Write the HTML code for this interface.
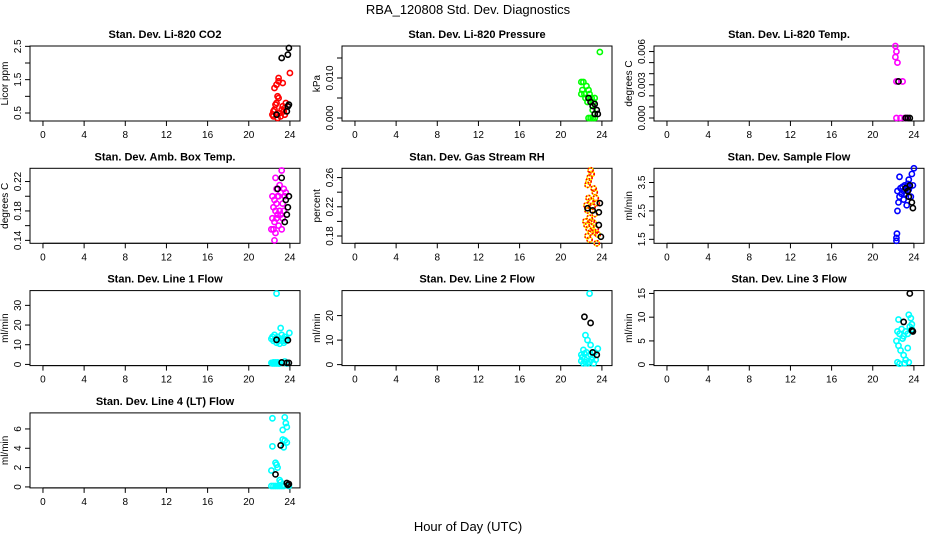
<!DOCTYPE html>
<html><head><meta charset="utf-8"><style>
body{margin:0;background:#fff}
svg{display:block;font-family:"Liberation Sans",Arial,sans-serif}
</style></head><body>
<svg id="c" width="936" height="540" viewBox="0 0 936 540">
<text x="468" y="14" text-anchor="middle" font-size="13">RBA_120808  Std. Dev. Diagnostics</text>
<text x="468" y="531" text-anchor="middle" font-size="13">Hour of Day (UTC)</text>
</svg>
<script>
const xTicks=[0,4,8,12,16,20,24];
const co2X=[22.3,22.4,22.5,22.6,22.7,22.5,22.7,22.9,22.9,22.8,22.9,23.3,23.0,23.2,23.4,23.5,23.6,24.0,23.1,22.8,23.3,23.5,22.4];
const co2Y=[0.45,0.55,0.6,0.75,0.8,1.25,1.35,1.55,1.45,1.0,0.95,1.4,0.5,0.6,0.55,0.45,0.8,1.7,0.4,0.35,0.7,0.65,0.4];
const co2BX=[22.7,23.2,23.8,23.9,23.8,23.7,23.9];
const co2BY=[0.45,2.15,2.25,2.45,0.7,0.55,0.75];
const prsX=[22.0,22.2,22.1,22.3,22.5,22.7,22.0,22.4,22.8,23.0,23.2,23.3,22.6,22.7,22.9,23.1,23.3,23.1,23.8];
const prsY=[0.009,0.009,0.007,0.006,0.008,0.007,0.006,0.005,0.006,0.005,0.004,0.005,0.004,0.0,0.0,0.0,0.0,0.002,0.0165];
const prsBX=[22.7,22.9,23.1,23.3,23.5,23.3,23.6];
const prsBY=[0.005,0.004,0.003,0.0035,0.002,0.001,0.001];
const tmpX=[22.2,22.3,22.2,22.4,22.3,22.9,22.3,22.7,23.1,23.3];
const tmpY=[0.0065,0.006,0.0055,0.005,0.0033,0.0033,0.0,0.0,0.0,0.0];
const tmpBX=[22.5,23.2,23.4,23.6];
const tmpBY=[0.0033,0.0,0.0,0.0];
const boxX=[22.6,23.2,23.0,22.3,22.5,22.7,22.9,23.1,23.4,22.4,22.6,22.8,23.0,23.3,23.5,22.3,22.5,22.7,22.9,23.1,23.4,22.4,22.6,22.2,23.2,23.6,22.5,22.8,23.3,22.7];
const boxY=[0.225,0.235,0.215,0.2,0.195,0.19,0.2,0.205,0.21,0.185,0.18,0.175,0.18,0.19,0.2,0.17,0.165,0.17,0.16,0.175,0.18,0.155,0.15,0.155,0.155,0.205,0.14,0.2,0.17,0.21];
const boxBX=[22.8,23.2,23.6,23.8,23.7,23.5,23.9];
const boxBY=[0.21,0.225,0.195,0.185,0.175,0.165,0.2];
const rhX=[22.9,23.0,22.8,22.7,22.6,23.2,23.3,23.4,22.7,22.9,22.5,22.6,23.1,23.3,23.5,22.8,23.0,23.2,22.5,22.7,22.9,23.1,22.6,23.4,23.6,23.5,22.8,23.0,22.4,23.3];
const rhY=[0.27,0.265,0.26,0.255,0.25,0.245,0.24,0.232,0.232,0.228,0.222,0.215,0.22,0.21,0.225,0.205,0.2,0.198,0.195,0.19,0.185,0.188,0.18,0.19,0.182,0.17,0.175,0.265,0.2,0.185];
const rhBX=[22.6,23.1,23.8,23.7,23.7,23.9];
const rhBY=[0.218,0.215,0.225,0.2125,0.195,0.179];
const sfX=[22.3,22.3,22.35,22.4,22.5,22.6,22.4,22.7,22.9,23.0,23.1,23.2,23.3,23.4,23.5,23.6,23.7,22.8,23.0,23.3,23.8,24.0,23.5,22.6,23.9];
const sfY=[1.45,1.55,1.7,2.5,2.8,3.0,3.2,3.3,3.35,3.2,3.4,3.1,3.3,3.45,3.25,3.35,3.0,3.1,2.9,2.7,3.8,4.0,3.6,3.7,3.4];
const sfBX=[23.2,23.4,23.6,23.8,23.9,23.5];
const sfBY=[3.3,3.2,3.4,2.8,2.6,3.0];
const l1X=[22.7,23.1,23.95,22.2,22.3,22.4,22.5,22.6,22.7,22.8,22.9,23.0,23.1,23.2,23.3,23.4,23.5,23.6,23.7,22.4,22.3,22.5,22.6,22.7,22.8,22.9,23.0,22.2,23.5,23.7];
const l1Y=[36,18.5,16,13,14,12,15,13,11,14,12,10.5,13,15,12,11,14,12,13,1,0.5,0.5,1,0.5,1,0.5,0.5,0.8,1.5,0.5];
const l1BX=[22.7,23.8,23.2,23.7,23.9];
const l1BY=[12.5,12.3,1,0.8,0.8];
const l2X=[22.8,22.4,22.6,22.9,22.2,22.0,22.1,22.3,22.5,22.7,22.9,23.1,23.3,23.0,22.4,22.2,22.6,22.8,23.2,23.6,23.4,22.0];
const l2Y=[29,12,10,8,6,4,3,4.5,5,3.5,4,3,5,2,1,0.5,0.5,1,0.5,6.5,2,1.5];
const l2BX=[22.3,22.9,23.1,23.5];
const l2BY=[19.5,17,5,4];
const l3X=[22.5,23.5,23.7,23.8,22.4,22.6,22.8,23.0,23.2,23.4,23.6,22.3,22.5,22.7,23.0,23.2,23.4,22.4,22.6,23.1,23.5,23.8,22.9];
const l3Y=[9.5,10.5,9.8,8.5,7,6.5,7.5,6,7,6.5,8,5,4,3,2,1,3.5,0.5,0.2,0.3,0.5,7.5,5.5];
const l3BX=[23.6,23.0,23.9,23.8];
const l3BY=[15,9,7,7.2];
const l4X=[22.3,23.5,23.6,23.7,23.3,22.3,23.3,23.5,23.7,23.4,22.6,22.7,22.8,22.2,23.0,22.2,22.4,22.6,22.8,23.0,23.2,23.4,23.9,23.1];
const l4Y=[7.1,7.2,6.6,6.2,5.9,4.2,4.9,4.8,4.6,4.1,2.5,2.3,2.0,1.7,0.7,0.1,0.1,0.1,0.1,0.1,0.1,0.1,0.1,0.5];
const l4BX=[23.1,22.6,23.7,23.8,23.9];
const l4BY=[4.3,1.3,0.4,0.2,0.3];

const panels=[
 {n:'co2',t:'Stan. Dev. Li-820 CO2',yl:'Licor ppm',d:[0.26,2.51],tk:[0.5,1,1.5,2,2.5],lb:['0.5','','1.5','','2.5'],x:co2X,y:co2Y,bx:co2BX,by:co2BY,c:'#ff0000'},
 {n:'pressure',t:'Stan. Dev. Li-820 Pressure',yl:'kPa',d:[-0.00075,0.018],tk:[0,0.005,0.01,0.015],lb:['0.000','','0.010',''],x:prsX,y:prsY,bx:prsBX,by:prsBY,c:'#00ff00'},
 {n:'temp',t:'Stan. Dev. Li-820 Temp.',yl:'degrees C',d:[-0.00027,0.0065],tk:[0,0.001,0.002,0.003,0.004,0.005,0.006],lb:['0.000','','','0.003','','','0.006'],x:tmpX,y:tmpY,bx:tmpBX,by:tmpBY,c:'#ff00ff'},
 {n:'box-temp',t:'Stan. Dev. Amb. Box Temp.',yl:'degrees C',d:[0.136,0.238],tk:[0.14,0.16,0.18,0.2,0.22],lb:['0.14','','0.18','','0.22'],x:boxX,y:boxY,bx:boxBX,by:boxBY,c:'#ff00ff'},
 {n:'rh',t:'Stan. Dev. Gas Stream RH',yl:'percent',d:[0.17,0.2727],tk:[0.18,0.2,0.22,0.24,0.26],lb:['0.18','','0.22','','0.26'],x:rhX,y:rhY,bx:rhBX,by:rhBY,c:'rh'},
 {n:'sample-flow',t:'Stan. Dev. Sample Flow',yl:'ml/min',d:[1.36,4.0],tk:[1.5,2,2.5,3,3.5],lb:['1.5','','2.5','','3.5'],x:sfX,y:sfY,bx:sfBX,by:sfBY,c:'#0000ff'},
 {n:'line1',t:'Stan. Dev. Line 1 Flow',yl:'ml/min',d:[-0.6,37.5],tk:[0,10,20,30],lb:['0','10','20','30'],x:l1X,y:l1Y,bx:l1BX,by:l1BY,c:'#00ffff'},
 {n:'line2',t:'Stan. Dev. Line 2 Flow',yl:'ml/min',d:[-0.4,30.2],tk:[0,10,20],lb:['0','10','20'],x:l2X,y:l2Y,bx:l2BX,by:l2BY,c:'#00ffff'},
 {n:'line3',t:'Stan. Dev. Line 3 Flow',yl:'ml/min',d:[-0.2,15.6],tk:[0,5,10,15],lb:['0','5','10','15'],x:l3X,y:l3Y,bx:l3BX,by:l3BY,c:'#00ffff'},
 {n:'line4',t:'Stan. Dev. Line 4 (LT) Flow',yl:'ml/min',d:[-0.1,7.66],tk:[0,2,4,6],lb:['0','2','4','6'],x:l4X,y:l4Y,bx:l4BX,by:l4BY,c:'#00ffff'}
];
const svg=document.getElementById('c');
const NS='http://www.w3.org/2000/svg';
function mk(tag,at,parent){const e=document.createElementNS(NS,tag);for(const k in at)e.setAttribute(k,at[k]);parent.appendChild(e);return e;}
panels.forEach((p,i)=>{
 const col=i%3,row=Math.floor(i/3);
 const L=30+col*312,W=270,T=46+row*122.3,H=75;
 const xs=h=>L+(h+1.26)/26.24*W;
 const ys=v=>T+H-(v-p.d[0])/(p.d[1]-p.d[0])*H;
 const g=mk('g',{},svg);
 
 
 const tt=mk('text',{x:L+W/2,y:T-8,'text-anchor':'middle','font-size':'11','font-weight':'bold'},g);tt.textContent=p.t;
 
 
 const bx=mk('rect',{x:L,y:T,width:W,height:H,fill:'none',stroke:'#000','stroke-width':1},g);
 
 
 // x axis
 const xa=mk('g',{},g);
 
 
 mk('line',{x1:xs(0),x2:xs(24),y1:T+H,y2:T+H,stroke:'#000'},xa);
 xTicks.forEach(h=>{mk('line',{x1:xs(h),x2:xs(h),y1:T+H,y2:T+H+5,stroke:'#000'},xa);
  const tx=mk('text',{x:xs(h),y:T+H+17,'text-anchor':'middle','font-size':'10'},xa);tx.textContent=h;});
 // y axis
 const ya=mk('g',{},g);
 
 
 mk('line',{x1:L,x2:L,y1:ys(p.tk[0]),y2:ys(p.tk[p.tk.length-1]),stroke:'#000'},ya);
 p.tk.forEach((v,j)=>{const y=ys(v);mk('line',{x1:L-5,x2:L,y1:y,y2:y,stroke:'#000'},ya);
  if(p.lb[j]){const tx=mk('text',{x:0,y:0,'text-anchor':'middle','font-size':'10',transform:`translate(${L-9},${y}) rotate(-90)`},ya);tx.textContent=p.lb[j];}});
 const yt=mk('text',{x:0,y:0,'text-anchor':'middle','font-size':'10',transform:`translate(${L-22},${T+H/2}) rotate(-90)`},g);yt.textContent=p.yl;
 
 
 // points
 p.x.forEach((h,j)=>{const cx=xs(h),cy=ys(p.y[j]);
  if(p.c==='rh'){const a=mk('circle',{cx,cy,r:2.6,fill:'none',stroke:'#ffff00','stroke-width':1.6},g);
   
   
   mk('circle',{cx,cy,r:2.6,fill:'none',stroke:'#ff0000','stroke-width':1.6,'stroke-dasharray':'1.5 1.5'},g);}
  else{const a=mk('circle',{cx,cy,r:2.6,fill:'none',stroke:p.c,'stroke-width':1.6},g);
   
   }});
 p.bx.forEach((h,j)=>{const a=mk('circle',{cx:xs(h),cy:ys(p.by[j]),r:2.6,fill:'none',stroke:'#000','stroke-width':1.6},g);
  
  });
});
</script>
</body></html>
